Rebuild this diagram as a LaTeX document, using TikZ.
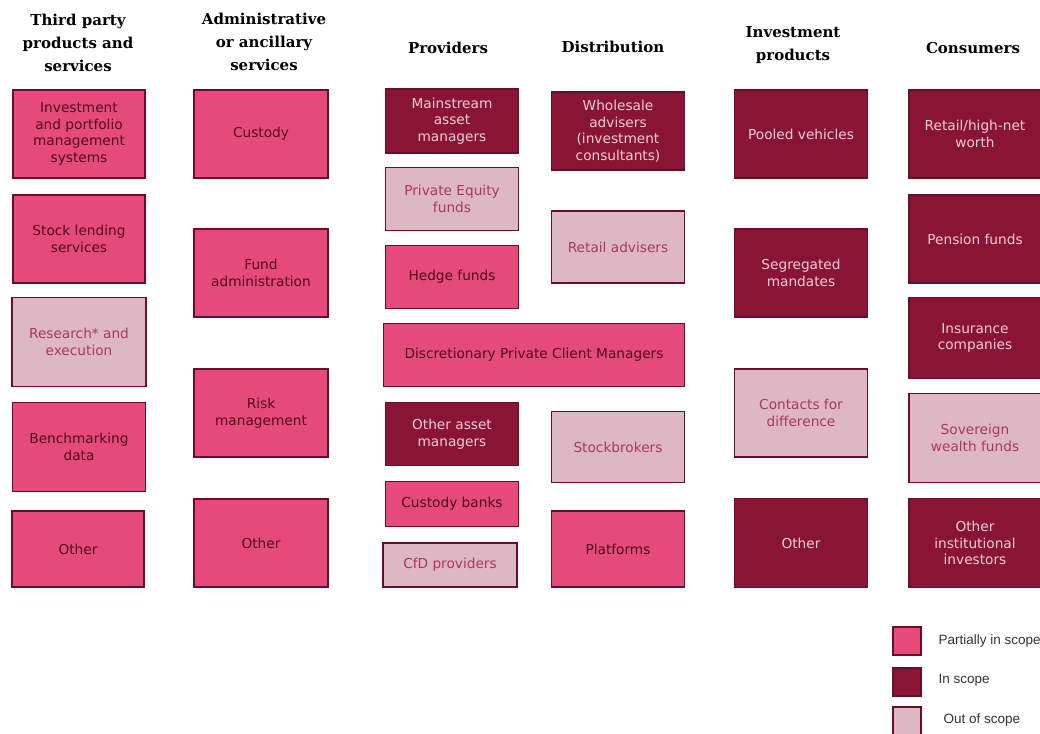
\documentclass[tikz,border=0pt]{standalone}
\usepackage{fontspec}
\setmainfont{DejaVu Sans}
\newfontfamily\headfont{DejaVu Serif}
\newfontfamily\keyfont{Liberation Sans}
\definecolor{edge}{RGB}{105,14,40}
\definecolor{partfill}{RGB}{230,74,122}
\definecolor{parttext}{RGB}{80,10,32}
\definecolor{infill}{RGB}{138,20,52}
\definecolor{intext}{RGB}{245,205,216}
\definecolor{outfill}{RGB}{222,183,196}
\definecolor{outtext}{RGB}{170,55,95}
\begin{document}
\begin{tikzpicture}[x=1pt, y=-1pt,
  box/.style={rectangle, draw=edge, line width=1.8pt, align=center, inner sep=2pt,
    font=\fontsize{13.7}{16.5}\selectfont},
  partial/.style={box, fill=partfill, text=parttext},
  inscope/.style={box, fill=infill, text=intext},
  outscope/.style={box, fill=outfill, text=outtext},
  head/.style={align=center, font=\headfont\bfseries\fontsize{15}{23}\selectfont},
  keybox/.style={rectangle, draw=edge, line width=1.2pt, minimum width=28pt, minimum height=28pt},
  keytext/.style={anchor=west, text=black!80, font=\keyfont\fontsize{13.5}{15}\selectfont}]
\useasboundingbox (0,0) rectangle (1040,733);

% column headings
\node (hthird) [head] at (78,43) {Third party\\products and\\services};
\node (hadmin) [head] at (264,42) {Administrative\\or ancillary\\services};
\node (hprov) [head] at (448,48) {Providers};
\node (hdist) [head] at (613,47) {Distribution};
\node (hprod) [head] at (793,45) {Investment\\products};
\node (hcons) [head] at (973,48) {Consumers};

% third party products and services
\node (invsys) [partial, minimum width=132pt, minimum height=88pt] at (79,134) {Investment\\and portfolio\\management\\systems};
\node (stocklend) [partial, minimum width=132pt, minimum height=88pt] at (79,239) {Stock lending\\services};
\node (research) [outscope, minimum width=134pt, minimum height=89pt] at (79,342) {Research* and\\execution};
\node (bench) [partial, minimum width=133pt, minimum height=89pt] at (79,447) {Benchmarking\\data};
\node (otherthird) [partial, minimum width=132pt, minimum height=76pt] at (78,549) {Other};

% administrative or ancillary services
\node (custody) [partial, minimum width=134pt, minimum height=88pt] at (261,134) {Custody};
\node (fundadmin) [partial, minimum width=134pt, minimum height=88pt] at (261,273) {Fund\\administration};
\node (risk) [partial, minimum width=134pt, minimum height=88pt] at (261,413) {Risk\\management};
\node (otheradmin) [partial, minimum width=134pt, minimum height=88pt] at (261,543) {Other};

% providers
\node (mainstream) [inscope, minimum width=133pt, minimum height=64pt] at (452,121) {Mainstream\\asset\\managers};
\node (privequity) [outscope, minimum width=133pt, minimum height=63pt] at (452,199) {Private Equity\\funds};
\node (hedge) [partial, minimum width=133pt, minimum height=63pt] at (452,277) {Hedge funds};
\node (dpcm) [partial, minimum width=301pt, minimum height=63pt] at (534,355) {Discretionary Private Client Managers};
\node (otheram) [inscope, minimum width=133pt, minimum height=63pt] at (452,434) {Other asset\\managers};
\node (custbanks) [partial, minimum width=133pt, minimum height=45pt] at (452,504) {Custody banks};
\node (cfdprov) [outscope, minimum width=134pt, minimum height=44pt] at (450,565) {CfD providers};

% distribution
\node (wholesale) [inscope, minimum width=133pt, minimum height=78pt] at (618,131) {Wholesale\\advisers\\(investment\\consultants)};
\node (retailadv) [outscope, minimum width=133pt, minimum height=72pt] at (618,247) {Retail advisers};
\node (stockbrok) [outscope, minimum width=133pt, minimum height=71pt] at (618,447) {Stockbrokers};
\node (platforms) [partial, minimum width=133pt, minimum height=76pt] at (618,549) {Platforms};

% investment products
\node (pooled) [inscope, minimum width=133pt, minimum height=88pt] at (801,134) {Pooled vehicles};
\node (segregated) [inscope, minimum width=133pt, minimum height=88pt] at (801,273) {Segregated\\mandates};
\node (cfdiff) [outscope, minimum width=133pt, minimum height=88pt] at (801,413) {Contacts for\\difference};
\node (otherprod) [inscope, minimum width=133pt, minimum height=89pt] at (801,543) {Other};

% consumers
\node (retailhnw) [inscope, minimum width=132pt, minimum height=88pt] at (975,134) {Retail/high-net\\worth};
\node (pension) [inscope, minimum width=132pt, minimum height=88pt] at (975,239) {Pension funds};
\node (insurance) [inscope, minimum width=132pt, minimum height=81pt] at (975,338) {Insurance\\companies};
\node (sovereign) [outscope, minimum width=132pt, minimum height=89pt] at (975,438) {Sovereign\\wealth funds};
\node (otherinst) [inscope, minimum width=132pt, minimum height=89pt] at (975,543) {Other\\institutional\\investors};

% legend
\node (keypart) [keybox, fill=partfill] at (907,641) {};
\node (keyin) [keybox, fill=infill] at (907,682) {};
\node (keyout) [keybox, fill=outfill] at (907,721) {};
\node (keyparttext) [keytext] at (935,641) {Partially in scope};
\node (keyintext) [keytext] at (935,680) {In scope};
\node (keyouttext) [keytext] at (940,720) {Out of scope};
\end{tikzpicture}
\end{document}
